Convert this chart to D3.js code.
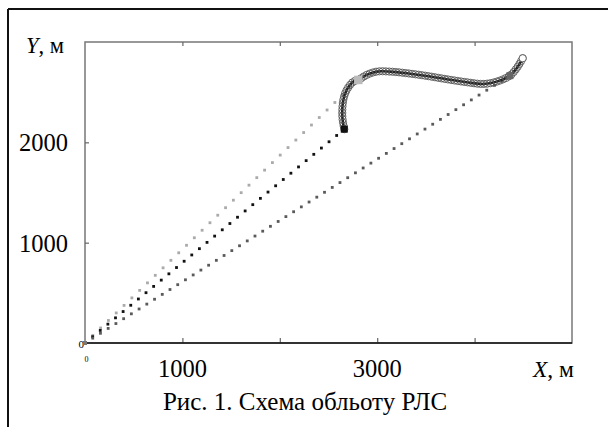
<!DOCTYPE html>
<html><head><meta charset="utf-8">
<script src="https://cdn.jsdelivr.net/npm/d3@7"></script>
<style>body{margin:0;background:#fff}svg{display:block}text{font-family:"Liberation Serif","Times New Roman",serif;fill:#000}</style>
</head><body>
<script>
// ---- data ----
const xDomain = [0, 5000];
const yDomain = [0, 3000];
const xTicks = [1000, 2000, 3000, 4000];
const xTickLabels = ["1000", "", "3000", ""];
const yTicks = [1000, 2000];
const yTickLabels = ["1000", "2000"];
const caption = "Рис. 1. Схема обльоту РЛС";
// straight approach lines (from radar at origin)
const lineLight = [[0, 0], [2806, 2622]];
const lineBlack = [[0, 0], [2662, 2131]];
const lineGray = [[0, 0], [4363, 2665]];
// flight trajectory
const trajX = [2662, 2642, 2652, 2687, 2755, 2806, 2892, 2995, 3131, 3303, 3508, 3714, 3919, 4089, 4227, 4363, 4432, 4494];
const trajY = [2131, 2256, 2423, 2522, 2605, 2622, 2672, 2705, 2705, 2689, 2662, 2629, 2599, 2582, 2605, 2665, 2739, 2838];

const W = 608, H = 427;
const svg = d3.select("body").append("svg").attr("width", W).attr("height", H);
const x = d3.scaleLinear().domain(xDomain).range([85, 572]);
const y = d3.scaleLinear().domain(yDomain).range([343, 42]);

// outer frame
svg.append("line").attr("x1", 8).attr("x2", 8).attr("y1", 9).attr("y2", H).attr("stroke", "#111").attr("stroke-width", 2);
svg.append("line").attr("x1", 8).attr("x2", W).attr("y1", 9).attr("y2", 9).attr("stroke", "#111").attr("stroke-width", 2);

// plot frame
svg.append("rect").attr("x", x(0)).attr("y", y(3000)).attr("width", x(5000) - x(0)).attr("height", y(0) - y(3000))
  .attr("fill", "none").attr("stroke", "#777").attr("stroke-width", 1.5);

// axes with D3
const gB = svg.append("g").attr("transform", `translate(0,${y(0)})`)
  .call(d3.axisTop(x).tickValues(xTicks).tickSize(5).tickFormat(""));
const gT = svg.append("g").attr("transform", `translate(0,${y(3000)})`)
  .call(d3.axisBottom(x).tickValues(xTicks).tickSize(4).tickFormat(""));
const gL = svg.append("g").attr("transform", `translate(${x(0)},0)`)
  .call(d3.axisRight(y).tickValues(yTicks).tickSize(4).tickFormat(""));
[gB, gT, gL].forEach(g => { g.select(".domain").remove(); g.selectAll(".tick line").attr("stroke", "#666").attr("stroke-width", 1.2); });
svg.append("line").attr("x1", x(0)).attr("x2", x(5000)).attr("y1", y(0)).attr("y2", y(0)).attr("stroke", "#111").attr("stroke-width", 1.6);

// tick labels
svg.selectAll(".xl").data(xTicks).enter().append("text")
  .attr("x", d => x(d)).attr("y", 377).attr("text-anchor", "middle").attr("font-size", 24.5)
  .text((d, i) => xTickLabels[i]);
svg.selectAll(".yl").data(yTicks).enter().append("text")
  .attr("x", 68).attr("y", d => y(d) + 9).attr("text-anchor", "end").attr("font-size", 24.5)
  .text((d, i) => yTickLabels[i]);
svg.append("text").attr("x", 84).attr("y", 348).attr("text-anchor", "end").attr("font-size", 11).text("0");
svg.append("text").attr("x", 86.5).attr("y", 362).attr("text-anchor", "middle").attr("font-size", 8).text("0");

// axis titles
const ty = svg.append("text").attr("x", 26).attr("y", 53).attr("font-size", 22.5);
ty.append("tspan").attr("font-style", "italic").text("Y");
ty.append("tspan").text(", м");
const tx = svg.append("text").attr("x", 533).attr("y", 377).attr("font-size", 23.5);
tx.append("tspan").attr("font-style", "italic").text("X");
tx.append("tspan").text(", м");

// caption
svg.append("text").attr("x", 305).attr("y", 410).attr("text-anchor", "middle").attr("font-size", 25).text(caption);

// dotted approach lines (axis-aligned square dots along path)
const lineGen = d3.line().x(d => x(d[0])).y(d => y(d[1]));
function dotted(data, color, stepX) {
  const p = svg.append("path").attr("d", lineGen(data)).attr("fill", "none").attr("stroke", "none");
  const node = p.node();
  const len = node.getTotalLength();
  const dx = Math.abs(x(data[1][0]) - x(data[0][0]));
  const n = Math.round(dx / stepX);
  const pts = d3.range(n + 1).map(i => node.getPointAtLength(len * i / n));
  svg.append("g").selectAll("rect").data(pts).enter().append("rect")
    .attr("x", d => d.x - 1.4).attr("y", d => d.y - 1.4).attr("width", 2.8).attr("height", 2.8).attr("fill", color);
}
dotted(lineLight, "#aaa", 7.7);
dotted(lineBlack, "#111", 7.7);
dotted(lineGray, "#5a5a5a", 7.7);

// trajectory
const traj = trajX.map((v, i) => [v, trajY[i]]);
const curveGen = d3.line().x(d => x(d[0])).y(d => y(d[1])).curve(d3.curveCatmullRom.alpha(0.5));
const tp = svg.append("path").attr("d", curveGen(traj)).attr("fill", "none").attr("stroke", "#222").attr("stroke-width", 2.6);
const tnode = tp.node();
const tlen = tnode.getTotalLength();
const nm = Math.round(tlen / 3.3);
const mpts = d3.range(nm + 1).map(i => tnode.getPointAtLength(tlen * i / nm));
svg.append("g").selectAll("circle").data(mpts).enter().append("circle")
  .attr("cx", d => d.x).attr("cy", d => d.y).attr("r", 3.6)
  .attr("fill", "none").attr("stroke", "#555").attr("stroke-width", 0.9);

// special markers
const sq = (d, color, s) => svg.append("rect").attr("x", x(d[0]) - s / 2).attr("y", y(d[1]) - s / 2).attr("width", s).attr("height", s).attr("fill", color);
sq(lineBlack[1], "#111", 7);
sq(lineLight[1], "#bbb", 8.5);
sq(lineGray[1], "#666", 7);
sq([0, 0], "#777", 4);
svg.append("circle").attr("cx", x(trajX[trajX.length - 1])).attr("cy", y(trajY[trajY.length - 1])).attr("r", 3.6)
  .attr("fill", "#fff").attr("stroke", "#666").attr("stroke-width", 1);
</script>
</body></html>
